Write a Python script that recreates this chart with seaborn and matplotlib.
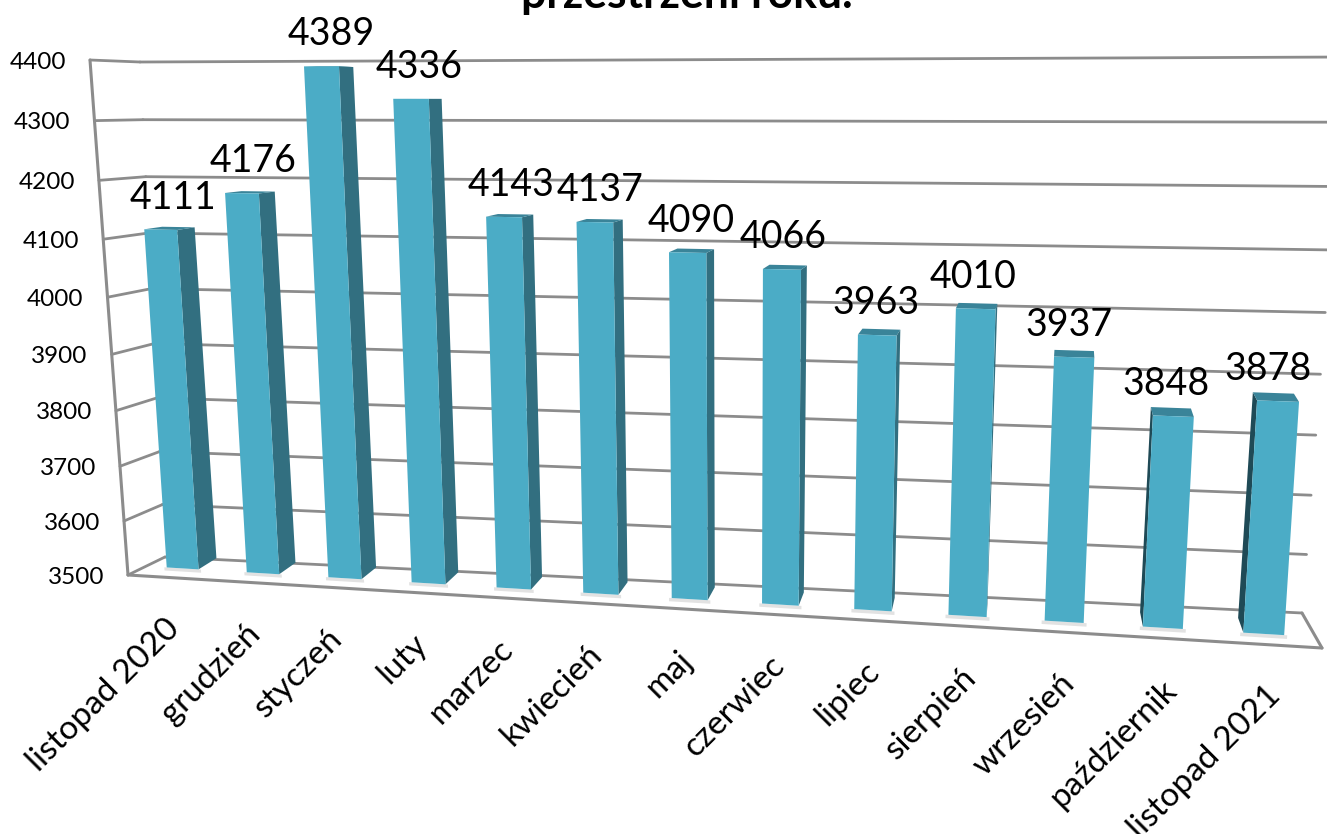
import numpy as np
import pandas as pd
import seaborn as sns
import matplotlib
matplotlib.use('Agg')
import matplotlib.pyplot as plt
from matplotlib.transforms import Transform, IdentityTransform

# values
months = ['listopad 2020', 'grudzień', 'styczeń', 'luty', 'marzec', 'kwiecień', 'maj',
          'czerwiec', 'lipiec', 'sierpień', 'wrzesień', 'październik', 'listopad 2021']
counts = [4111, 4176, 4389, 4336, 4143, 4137, 4090, 4066, 3963, 4010, 3937, 3848, 3878]
ticks = [3500, 3600, 3700, 3800, 3900, 4000, 4100, 4200, 4300, 4400]
title_tail = 'przestrzeni roku.'

W, H = 1327, 834
BASE, TOP = ticks[0], ticks[-1]
X0, X1 = -0.5, 12.5
BAR_W = 0.4


class Plane(Transform):
    # perspective mapping of (category, value) to pixels, set by where the corners of the plane land
    input_dims = 2
    output_dims = 2

    def __init__(self, bl, br, tr, tl):
        super().__init__()
        src = [(X0, BASE), (X1, BASE), (X1, TOP), (X0, TOP)]
        A, b = [], []
        for (x, y), (u, v) in zip(src, [bl, br, tr, tl]):
            A.append([x, y, 1, 0, 0, 0, -u * x, -u * y])
            A.append([0, 0, 0, x, y, 1, -v * x, -v * y])
            b += [u, v]
        self.m = np.linalg.lstsq(np.array(A, float), np.array(b, float), rcond=None)[0]

    def transform_non_affine(self, values):
        values = np.asarray(values, float)
        x, y = values[:, 0], values[:, 1]
        m = self.m
        w = m[6] * x + m[7] * y + 1
        return np.column_stack([(m[0] * x + m[1] * y + m[2]) / w,
                                H - (m[3] * x + m[4] * y + m[5]) / w])


# front edge of the floor, back wall, front and back of the bars
edge = Plane((128, 575), (1322, 648), (1372, 50), (90, 60))
wall = Plane((165, 557), (1302, 613), (1345, 57), (140, 62))
front = Plane((143, 566), (1315, 637), (1354, 58), (108, 60))
back = Plane((162, 555), (1308, 622), (1350, 58), (126, 61))

sns.set_theme(style='white')
plt.rcParams['font.family'] = ['Lato', 'DejaVu Sans']

fig = plt.figure(figsize=(W / 100, H / 100), dpi=100)
ax = fig.add_axes([0, 0, 1, 1])

df = pd.DataFrame({'month': months, 'count': counts})
sns.barplot(data=df, x='month', y='count', color='#4BACC6', saturation=1, width=BAR_W,
            linewidth=0, ax=ax, zorder=4)
for p in ax.patches:
    p.set_height(p.get_height() - BASE)
    p.set_y(BASE)
    p.set_transform(front)
    p.set_clip_on(False)
    p.set_antialiased(True)

px = IdentityTransform()
GRID = '#8C8C8C'

# grid on the back wall and its short run along the left wall
for t in ticks:
    ax.plot([X0, X1], [t, t], transform=wall, color=GRID, lw=2, zorder=1, clip_on=False)
    a = edge.transform([(X0, t)])[0]
    b = wall.transform([(X0, t)])[0]
    ax.plot([a[0], b[0]], [a[1], b[1]], transform=px, color=GRID, lw=2, zorder=1, clip_on=False)

# axis and floor outline
ax.plot([X0, X0], [BASE, TOP], transform=edge, color=GRID, lw=2.2, zorder=1.5, clip_on=False)
ax.plot([X0, X1], [BASE, BASE], transform=edge, color=GRID, lw=2.2, zorder=1.5, clip_on=False)
a = edge.transform([(X1, BASE)])[0]
b = wall.transform([(X1, BASE)])[0]
ax.plot([a[0], b[0]], [a[1], b[1]], transform=px, color=GRID, lw=2.2, zorder=1.5, clip_on=False)

# sides and tops of the bars, worked out from the values
for i, v in enumerate(counts):
    l, r = i - BAR_W / 2, i + BAR_W / 2
    fl, fr = front.transform([(l, v), (r, v)])
    bl, br = back.transform([(l, v), (r, v)])
    fl0, fr0 = front.transform([(l, BASE), (r, BASE)])
    bl0, br0 = back.transform([(l, BASE), (r, BASE)])
    if br[0] > fr[0]:
        q = np.array([fr, br, br0, fr0])
        ax.fill(q[:, 0], q[:, 1], transform=px, color='#326F80', lw=0, zorder=3, clip_on=False)
    if bl[0] < fl[0]:
        q = np.array([fl, bl, bl0, fl0])
        ax.fill(q[:, 0], q[:, 1], transform=px, color='#1F4A56', lw=0, zorder=3, clip_on=False)
    q = np.array([fl, bl, br, fr])
    ax.fill(q[:, 0], q[:, 1], transform=px, color='#3A8499', lw=0, zorder=3, clip_on=False)
    # thin shadow under the bar
    ax.fill([l - 0.03, r + 0.03, r + 0.03, l - 0.03], [BASE, BASE, BASE - 6, BASE - 6], transform=front,
            color='#E2E2E2', lw=0, zorder=2, clip_on=False)

    lean = back.transform([(i, v)])[0][0] - front.transform([(i, v)])[0][0]
    ax.annotate(str(v), xy=(i, v), xycoords=front, xytext=(lean - 5, 32), textcoords='offset pixels',
                ha='center', va='center', fontsize=27, color='black', zorder=6, annotation_clip=False)
    ax.annotate(months[i], xy=(i, BASE), xycoords=edge, xytext=(-4, -36), textcoords='offset pixels',
                ha='right', va='top', rotation=45, rotation_mode='anchor', fontsize=24,
                color='black', zorder=6, annotation_clip=False)

for t in ticks:
    ax.annotate(str(t), xy=(X0, t), xycoords=edge, xytext=(-24, -2), textcoords='offset pixels',
                ha='right', va='center', fontsize=17.5, color='black', annotation_clip=False)

fig.text(687 / W, 1 - 8 / H, title_tail, ha='center', va='baseline', fontsize=32, fontweight='bold', color='black')

ax.set_xlim(-1, 13)
ax.set_ylim(BASE, TOP)
ax.axis('off')

fig.savefig('out.png', dpi=100, facecolor='white')
